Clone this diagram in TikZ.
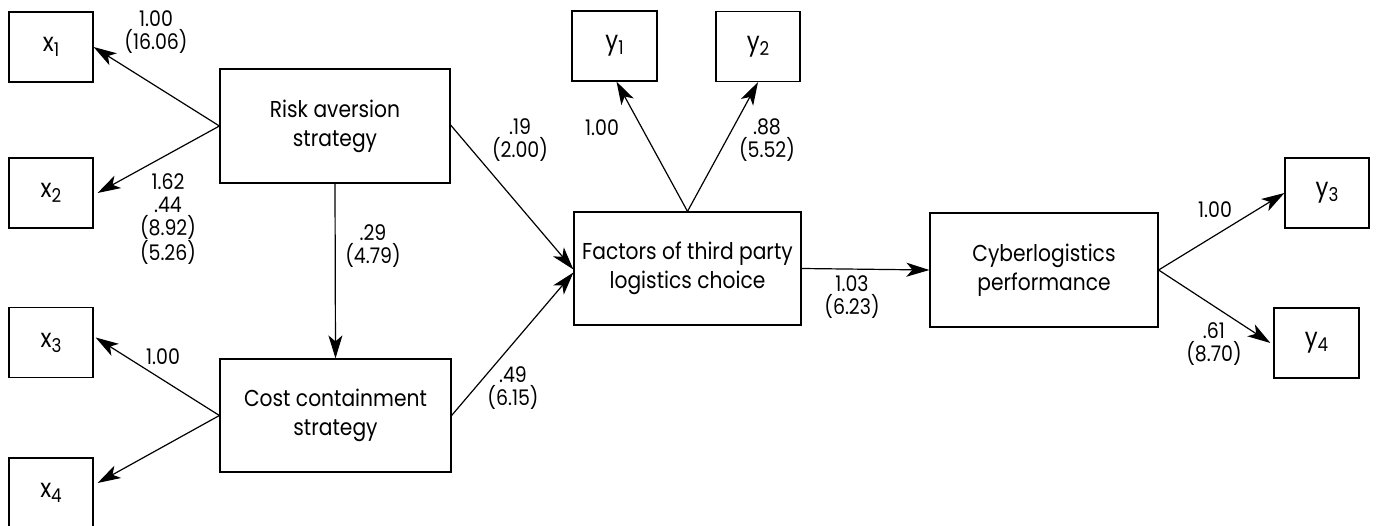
\documentclass[tikz,border=0pt]{standalone}
\usepackage{fontspec}
\setmainfont{Poppins}[FakeStretch=0.88]
\usetikzlibrary{arrows.meta}
\tikzset{
 var/.style={draw, line width=1.2pt, minimum width=84pt, minimum height=70pt, inner sep=0pt, font=\fontsize{26}{26}\selectfont},
 latent/.style={draw, line width=1.2pt, minimum width=230pt, minimum height=114pt, align=center, inner sep=0pt, font=\fontsize{23}{29}\selectfont},
 lbl/.style={align=center, inner sep=0pt, font=\fontsize{21.5}{23}\selectfont},
 arr/.style={-{Stealth[length=23pt,width=14pt,inset=6pt]}, line width=1.2pt},
}
\newcommand\sbs[1]{\raisebox{-5pt}{\fontsize{19}{19}\selectfont #1}}
\begin{document}
\begin{tikzpicture}[x=1pt,y=-1pt]
\useasboundingbox (0,0) rectangle (1376,526);
\clip (0,0) rectangle (1376,526);
% observed variables
\node[var] (x1) at (51,47) {x\sbs{1}};
\node[var] (x2) at (51,193) {x\sbs{2}};
\node[var] (x3) at (51,342.5) {x\sbs{3}};
\node[var] (x4) at (51,493) {x\sbs{4}};
\node[var, minimum width=85pt] (y1) at (614.5,46) {y\sbs{1}};
\node[var] (y2) at (758,46.5) {y\sbs{2}};
\node[var] (y3) at (1327,193) {y\sbs{3}};
\node[var, minimum width=85pt] (y4) at (1316.5,343) {y\sbs{4}};
% latent constructs
\node[latent] (risk) at (335,126) {Risk aversion\\strategy};
\node[latent, minimum width=231pt, minimum height=113pt] (cost) at (335.5,415.5) {Cost containment\\strategy};
\node[latent, minimum width=227pt, minimum height=113pt] (fac) at (687.5,268.5) {Factors of third party\\logistics choice};
\node[latent, minimum width=228pt] (cyb) at (1044,270) {Cyberlogistics\\performance};
% paths
\draw[arr] (risk.west) -- (x1.east);
\draw[arr] (risk.west) -- ([xshift=4pt]x2.east);
\draw[arr] (cost.west) -- ([xshift=2pt,yshift=5pt]x3.east);
\draw[arr] (cost.west) -- ([xshift=4pt,yshift=10pt]x4.east);
\draw[arr] (risk.south) -- (cost.north);
\draw[arr] ([yshift=1pt]risk.east) -- ([yshift=-1pt]fac.west);
\draw[arr] (cost.east) -- ([yshift=-4pt]fac.west);
\draw[arr] (fac.north) -- ([xshift=2pt]y1.south);
\draw[arr] (fac.north) -- (y2.south);
\draw[arr] (fac.east) -- (cyb.west);
\draw[arr] (cyb.east) -- (y3.west);
\draw[arr] (cyb.east) -- ([xshift=-3pt]y4.west);
% labels
\node[lbl] (l1) at (156,32) {1.00\\(16.06)};
\node[lbl] (l2) at (168,219) {1.62\\.44\\(8.92)\\(5.26)};
\node[lbl] (l3) at (373,246) {.29\\(4.79)};
\node[lbl] (l4) at (163,357) {1.00};
\node[lbl] (l5) at (520,140) {.19\\(2.00)};
\node[lbl] (l6) at (513,388) {.49\\(6.15)};
\node[lbl] (l7) at (602,128) {1.00};
\node[lbl] (l8) at (767,140) {.88\\(5.52)};
\node[lbl] (l9) at (852,297) {1.03\\(6.23)};
\node[lbl] (l10) at (1215,210) {1.00};
\node[lbl] (l11) at (1214,344) {.61\\(8.70)};
\end{tikzpicture}
\end{document}
